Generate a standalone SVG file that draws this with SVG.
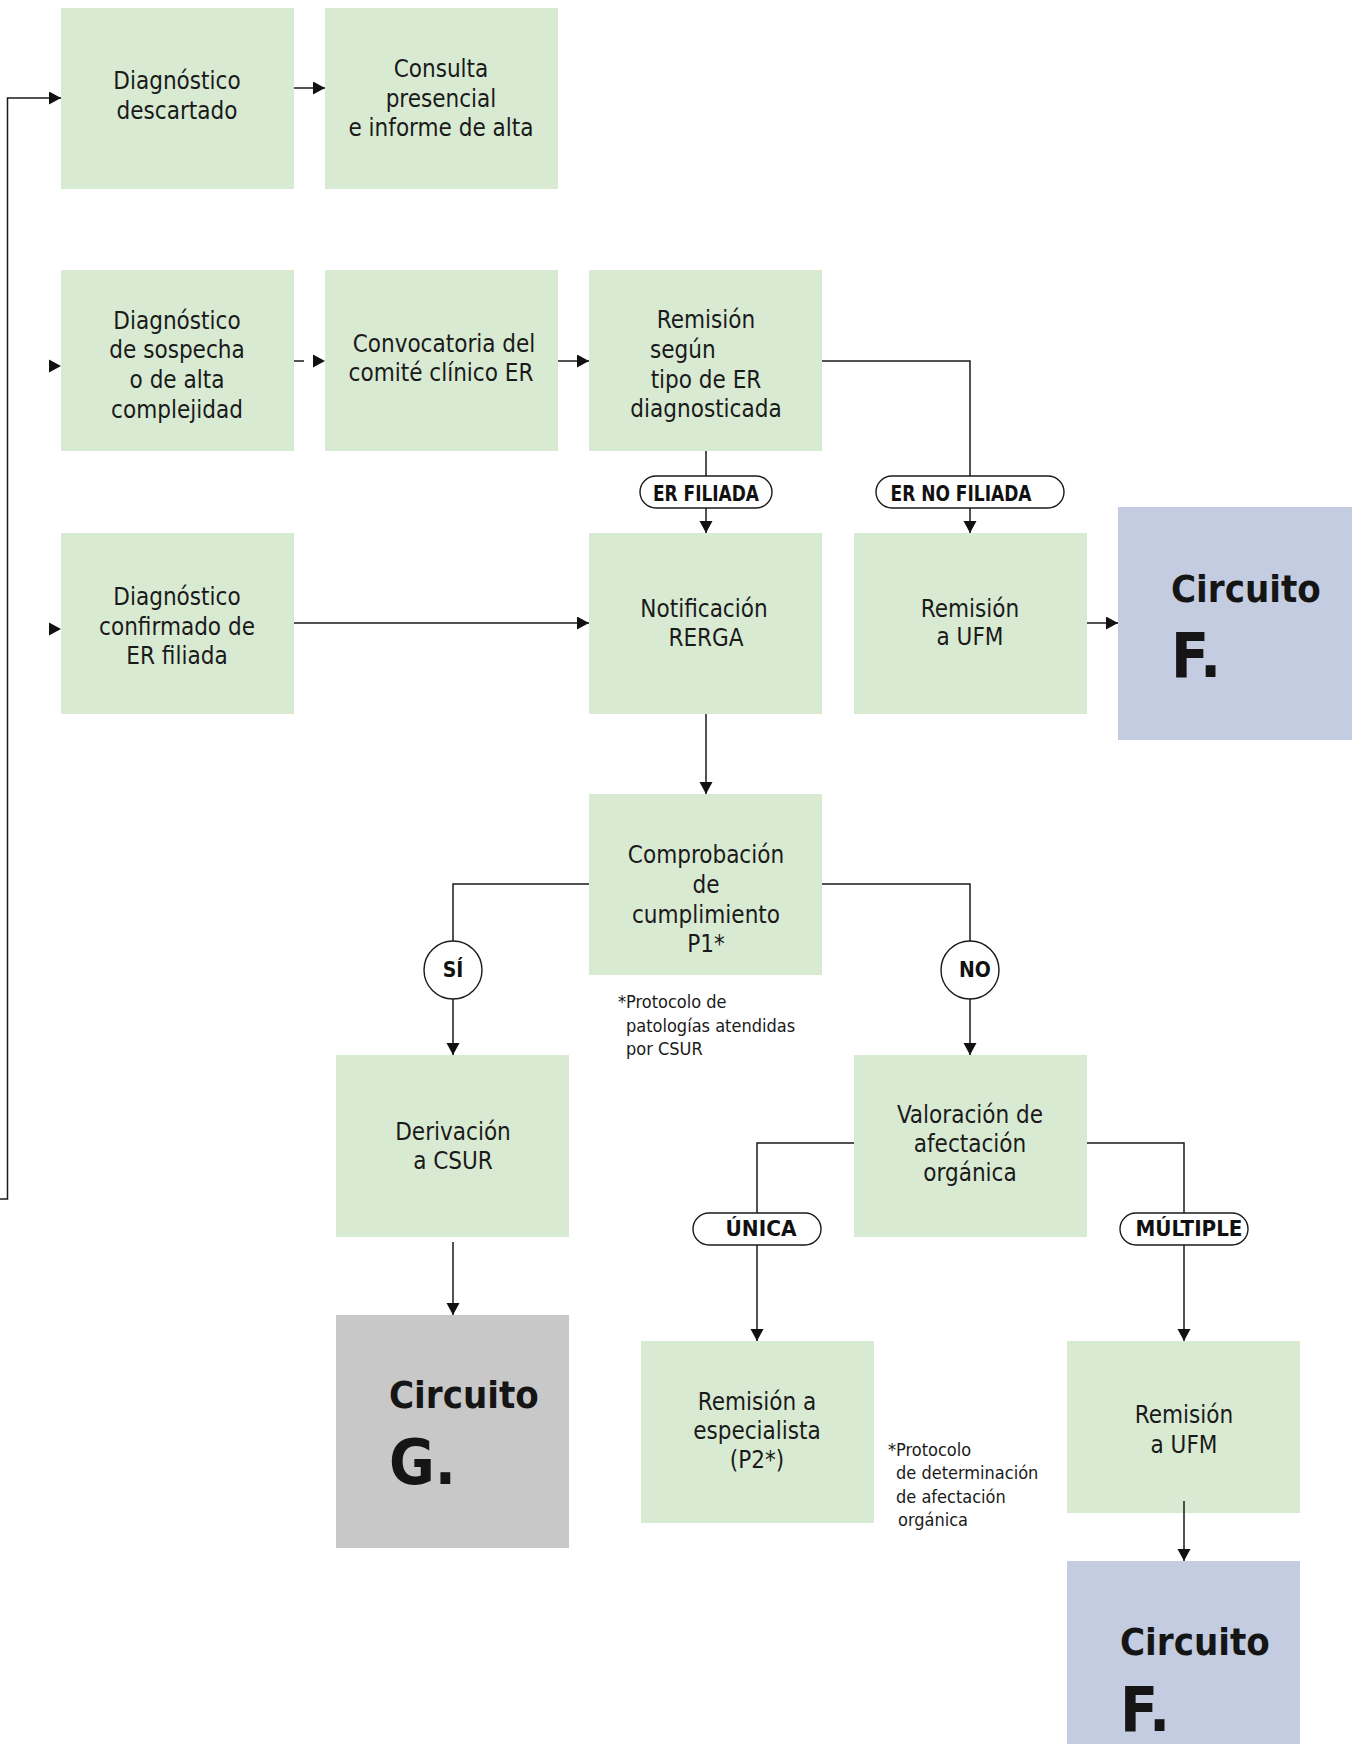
<svg xmlns="http://www.w3.org/2000/svg" width="1352" height="1744" viewBox="0 0 1352 1744">
  <style>
    .box { fill: #D9EAD3; }
    .circF { fill: #C4CCE1; }
    .circG { fill: #C8C8C8; }
    .t { font-family: 'DejaVu Sans Condensed', 'DejaVu Sans', sans-serif; font-size: 24px; fill: #1a1a1a; text-anchor: middle; }
    .tl { text-anchor: start; }
    .big { font-family: 'DejaVu Sans Condensed', 'DejaVu Sans', sans-serif; font-weight: bold; fill: #151515; }
    .c1 { font-size: 38px; }
    .c2 { font-size: 62px; }
    .note { font-family: 'DejaVu Sans Condensed', 'DejaVu Sans', sans-serif; font-size: 18px; fill: #1a1a1a; }
    .lbl { font-family: 'DejaVu Sans Condensed', 'DejaVu Sans', sans-serif; font-weight: bold; font-size: 21px; fill: #111; text-anchor: middle; }
    .ln { fill: none; stroke: #1a1a1a; stroke-width: 1.5; }
    .pill { fill: #fff; stroke: #1a1a1a; stroke-width: 1.4; }
    .head { fill: #111; }
  </style>
  <defs>
    <marker id="arr" markerUnits="userSpaceOnUse" markerWidth="13" markerHeight="14" refX="12" refY="6.5" orient="auto">
      <path d="M0,0 L12,6.5 L0,13 z" fill="#111"/>
    </marker>
  </defs>

  <g id="nodes">
    <g id="n-descartado">
      <rect class="box" x="61" y="8" width="233" height="181"/>
      <text class="t" x="177" y="89">Diagnóstico</text>
      <text class="t" x="177" y="119">descartado</text>
    </g>
    <g id="n-consulta">
      <rect class="box" x="325" y="8" width="233" height="181"/>
      <text class="t" x="441" y="77">Consulta</text>
      <text class="t" x="441" y="107">presencial</text>
      <text class="t" x="441" y="136">e informe de alta</text>
    </g>
    <g id="n-sospecha">
      <rect class="box" x="61" y="270" width="233" height="181"/>
      <text class="t" x="177" y="329">Diagnóstico</text>
      <text class="t" x="177" y="358">de sospecha</text>
      <text class="t" x="177" y="388">o de alta</text>
      <text class="t" x="177" y="418">complejidad</text>
    </g>
    <g id="n-convocatoria">
      <rect class="box" x="325" y="270" width="233" height="181"/>
      <text class="t" x="444" y="352">Convocatoria del</text>
      <text class="t" x="441" y="381">comité clínico ER</text>
    </g>
    <g id="n-remision-tipo">
      <rect class="box" x="589" y="270" width="233" height="181"/>
      <text class="t" x="706" y="328">Remisión</text>
      <text class="t tl" x="650" y="358">según</text>
      <text class="t" x="706" y="388">tipo de ER</text>
      <text class="t" x="706" y="417">diagnosticada</text>
    </g>
    <g id="n-confirmado">
      <rect class="box" x="61" y="533" width="233" height="181"/>
      <text class="t" x="177" y="605">Diagnóstico</text>
      <text class="t" x="177" y="635">confirmado de</text>
      <text class="t" x="177" y="664">ER filiada</text>
    </g>
    <g id="n-rerga">
      <rect class="box" x="589" y="533" width="233" height="181"/>
      <text class="t" x="704" y="617">Notificación</text>
      <text class="t" x="706" y="646">RERGA</text>
    </g>
    <g id="n-ufm-1">
      <rect class="box" x="854" y="533" width="233" height="181"/>
      <text class="t" x="970" y="617">Remisión</text>
      <text class="t" x="970" y="645">a UFM</text>
    </g>
    <g id="n-circuito-f-1">
      <rect class="circF" x="1118" y="507" width="234" height="233"/>
      <text class="big c1" x="1171" y="602">Circuito</text>
      <text class="big c2" x="1171" y="677">F.</text>
    </g>
    <g id="n-comprobacion">
      <rect class="box" x="589" y="794" width="233" height="181"/>
      <text class="t" x="706" y="863">Comprobación</text>
      <text class="t" x="706" y="893">de</text>
      <text class="t" x="706" y="923">cumplimiento</text>
      <text class="t" x="706" y="952">P1*</text>
    </g>
    <g id="n-csur">
      <rect class="box" x="336" y="1055" width="233" height="182"/>
      <text class="t" x="453" y="1140">Derivación</text>
      <text class="t" x="453" y="1169">a CSUR</text>
    </g>
    <g id="n-valoracion">
      <rect class="box" x="854" y="1055" width="233" height="182"/>
      <text class="t" x="970" y="1123">Valoración de</text>
      <text class="t" x="970" y="1152">afectación</text>
      <text class="t" x="970" y="1181">orgánica</text>
    </g>
    <g id="n-circuito-g">
      <rect class="circG" x="336" y="1315" width="233" height="233"/>
      <text class="big c1" x="389" y="1408">Circuito</text>
      <text class="big c2" x="389" y="1484">G.</text>
    </g>
    <g id="n-especialista">
      <rect class="box" x="641" y="1341" width="233" height="182"/>
      <text class="t" x="757" y="1410">Remisión a</text>
      <text class="t" x="757" y="1439">especialista</text>
      <text class="t" x="757" y="1468">(P2*)</text>
    </g>
    <g id="n-ufm-2">
      <rect class="box" x="1067" y="1341" width="233" height="172"/>
      <text class="t" x="1184" y="1423">Remisión</text>
      <text class="t" x="1184" y="1453">a UFM</text>
    </g>
    <g id="n-circuito-f-2">
      <rect class="circF" x="1067" y="1561" width="233" height="183"/>
      <text class="big c1" x="1120" y="1655">Circuito</text>
      <text class="big c2" x="1120" y="1731">F.</text>
    </g>
    <g id="notes">
      <text class="note" x="618" y="1008">*Protocolo de</text>
      <text class="note" x="626" y="1032">patologías atendidas</text>
      <text class="note" x="626" y="1055">por CSUR</text>
      <text class="note" x="888" y="1456">*Protocolo</text>
      <text class="note" x="896" y="1479">de determinación</text>
      <text class="note" x="896" y="1503">de afectación</text>
      <text class="note" x="898" y="1526">orgánica</text>
    </g>
  </g>

  <g id="connectors">
    <path class="ln" d="M0 1199 H7.5 V98 H61" marker-end="url(#arr)"/>
    <polygon class="head" points="49,359.5 61,366 49,372.5"/>
    <polygon class="head" points="49,622.5 61,629 49,635.5"/>
    <path class="ln" d="M294 88 H325" marker-end="url(#arr)"/>
    <path class="ln" d="M294 361 H304"/>
    <polygon class="head" points="313,354.5 325,361 313,367.5"/>
    <path class="ln" d="M558 361 H589" marker-end="url(#arr)"/>
    <path class="ln" d="M822 361 H970 V533" marker-end="url(#arr)"/>
    <path class="ln" d="M706 451 V533" marker-end="url(#arr)"/>
    <path class="ln" d="M294 623 H589" marker-end="url(#arr)"/>
    <path class="ln" d="M1087 623 H1118" marker-end="url(#arr)"/>
    <path class="ln" d="M706 714 V794" marker-end="url(#arr)"/>
    <path class="ln" d="M589 884 H453 V1055" marker-end="url(#arr)"/>
    <path class="ln" d="M822 884 H970 V1055" marker-end="url(#arr)"/>
    <path class="ln" d="M453 1242 V1315" marker-end="url(#arr)"/>
    <path class="ln" d="M854 1143 H757 V1341" marker-end="url(#arr)"/>
    <path class="ln" d="M1087 1143 H1184 V1341" marker-end="url(#arr)"/>
    <path class="ln" d="M1184 1501 V1561" marker-end="url(#arr)"/>

    <g id="lbl-er-filiada">
      <rect class="pill" x="640" y="476" width="132" height="32" rx="16"/>
      <text class="lbl" x="706" y="501" textLength="106" lengthAdjust="spacingAndGlyphs">ER FILIADA</text>
    </g>
    <g id="lbl-er-no-filiada">
      <rect class="pill" x="876" y="476" width="188" height="32" rx="16"/>
      <text class="lbl" x="961" y="501" textLength="141" lengthAdjust="spacingAndGlyphs">ER NO FILIADA</text>
    </g>
    <g id="lbl-si">
      <ellipse class="pill" cx="453" cy="970" rx="29" ry="29"/>
      <text class="lbl" x="453" y="977">SÍ</text>
    </g>
    <g id="lbl-no">
      <ellipse class="pill" cx="970" cy="970" rx="29" ry="29"/>
      <text class="lbl" x="975" y="977">NO</text>
    </g>
    <g id="lbl-unica">
      <rect class="pill" x="693" y="1213" width="128" height="32" rx="16"/>
      <text class="lbl" x="761" y="1236" textLength="71" lengthAdjust="spacingAndGlyphs">ÚNICA</text>
    </g>
    <g id="lbl-multiple">
      <rect class="pill" x="1120" y="1213" width="128" height="32" rx="16"/>
      <text class="lbl" x="1189" y="1236" textLength="107" lengthAdjust="spacingAndGlyphs">MÚLTIPLE</text>
    </g>
  </g>
</svg>
